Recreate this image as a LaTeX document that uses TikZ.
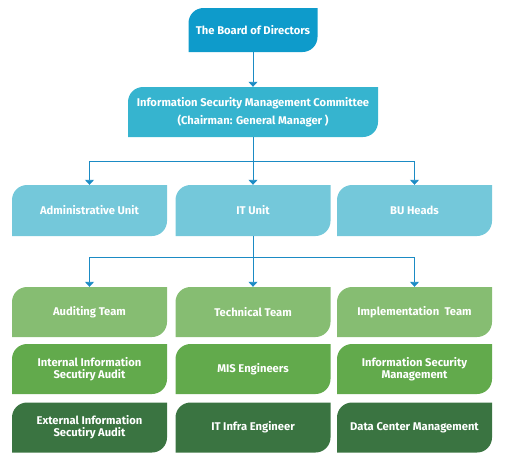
\documentclass[tikz,border=0pt]{standalone}
\usepackage{fontspec}
\setsansfont{Fira Sans}
\usetikzlibrary{arrows.meta,calc}
\definecolor{board}{HTML}{0E9BCB}
\definecolor{committee}{HTML}{36B4CF}
\definecolor{unit}{HTML}{74C8DA}
\definecolor{teamA}{HTML}{86BD72}
\definecolor{teamB}{HTML}{62AA4C}
\definecolor{teamC}{HTML}{3A7441}
\definecolor{arrow}{HTML}{1B8BC4}

\begin{document}
\begin{tikzpicture}[x=1pt,y=1pt,font=\sffamily\bfseries\fontsize{11.2}{12}\selectfont,
  leaf/.style={minimum width=155pt,minimum height=50pt,inner sep=0pt,text=white,align=center,
    path picture={\fill[#1] (path picture bounding box.south west)
      -- ([yshift=-15pt]path picture bounding box.north west) arc[start angle=180,end angle=90,radius=15pt]
      -- (path picture bounding box.north east)
      -- ([yshift=15pt]path picture bounding box.south east) arc[start angle=0,end angle=-90,radius=15pt]
      -- cycle;}},
  link/.style={draw=arrow,line width=0.9pt},
  tip/.style={link,-{Triangle[width=9pt,length=5pt]}}]
\useasboundingbox (0,0) rectangle (508,-467);
% top of the chart
\node[leaf=board,minimum width=129pt,minimum height=44pt] (board) at (253,-30) {The Board of Directors};
\node[leaf=committee,minimum width=250pt] (ismc) at (253,-112) {Information Security Management Committee\\[5pt](Chairman: General Manager )};
% units
\node[leaf=unit,minimum height=51pt] (admin) at (89.5,-210.5) {Administrative Unit};
\node[leaf=unit,minimum height=51pt] (itunit) at (253,-210.5) {IT Unit};
\node[leaf=unit,minimum height=51pt] (bu) at (414.5,-210.5) {BU Heads};
% teams
\node[leaf=teamA] (audit) at (89.5,-312) {Auditing Team};
\node[leaf=teamA] (tech) at (253,-312) {Technical Team};
\node[leaf=teamA] (impl) at (414.5,-312) {Implementation~ Team};
\node[leaf=teamB] (intaudit) at (89.5,-369) {Internal Information\\Secutiry Audit};
\node[leaf=teamB] (mis) at (253,-369) {MIS Engineers};
\node[leaf=teamB] (ism) at (414.5,-369) {Information Security\\Management};
\node[leaf=teamC] (extaudit) at (89.5,-427.5) {External Information\\Secutiry Audit};
\node[leaf=teamC] (infra) at (253,-427.5) {IT Infra Engineer};
\node[leaf=teamC] (dcm) at (414.5,-427.5) {Data Center Management};
% connectors
\draw[tip] (board) -- (ismc);
\coordinate (hubA) at ($(ismc.south)+(0,-24)$);
\draw[link] (ismc.south) -- (hubA);
\draw[link] (admin.north |- hubA) -- (bu.north |- hubA);
\foreach \n in {admin,itunit,bu} \draw[tip] (\n.north |- hubA) -- (\n);
\coordinate (hubB) at ($(itunit.south)+(0,-21)$);
\draw[link] (itunit.south) -- (hubB);
\draw[link] (audit.north |- hubB) -- (impl.north |- hubB);
\foreach \n in {audit,tech,impl} \draw[tip] (\n.north |- hubB) -- (\n);
\end{tikzpicture}
\end{document}
